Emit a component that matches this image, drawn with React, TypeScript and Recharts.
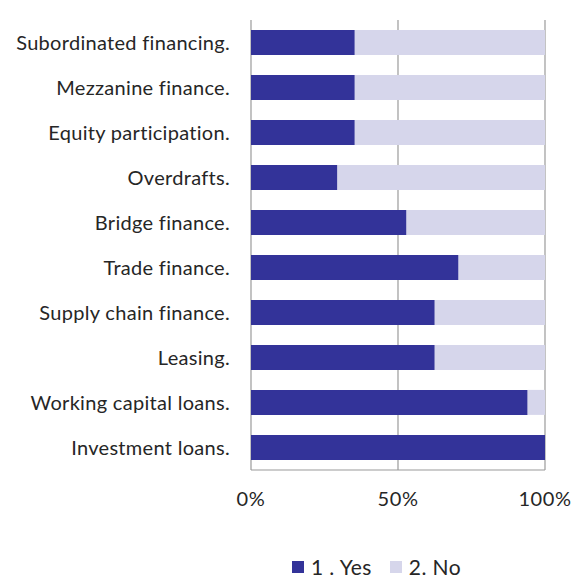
import { BarChart, Bar, XAxis, YAxis, CartesianGrid, Legend } from "recharts"

const categories = [
  "Subordinated financing.",
  "Mezzanine finance.",
  "Equity participation.",
  "Overdrafts.",
  "Bridge finance.",
  "Trade finance.",
  "Supply chain finance.",
  "Leasing.",
  "Working capital loans.",
  "Investment loans.",
]
const yesShares = [35.3, 35.3, 35.3, 29.4, 52.9, 70.6, 62.5, 62.5, 94.1, 100]
const noShares = [64.7, 64.7, 64.7, 70.6, 47.1, 29.4, 37.5, 37.5, 5.9, 0]
const xTicks = [0, 50, 100]

const seriesNames = ["1 . Yes", "2. No"]
const seriesColors = ["#333399", "#d6d6eb"]

const data = categories.map((name, i) => ({ name, yes: yesShares[i], no: noShares[i] }))

const font = "Lato, 'Open Sans', sans-serif"
const textColor = "#262626"

function LegendBox() {
  return (
    <div style={{ display: "flex", alignItems: "center", fontFamily: font, fontSize: 21, color: textColor, whiteSpace: "nowrap", letterSpacing: 0.4 }}>
      {seriesNames.map((n, i) => (
        <span key={n} style={{ display: "flex", alignItems: "center", marginRight: 18 }}>
          <span style={{ display: "inline-block", width: 12, height: 12, background: seriesColors[i], marginRight: 7 }} />
          {n}
        </span>
      ))}
    </div>
  )
}

export default function App() {
  return (
    <div style={{ position: "absolute", left: 0, top: 0, width: 574, height: 578, background: "#fff", overflow: "hidden" }}>
      <BarChart
        width={574}
        height={578}
        data={data}
        layout="vertical"
        margin={{ top: 20, right: 29, left: 0, bottom: 68 }}
        barCategoryGap="22%"
      >
        <CartesianGrid horizontal={false} stroke="#9a9a9a" strokeWidth={1.2} />
        <XAxis
          type="number"
          domain={[0, 100]}
          ticks={xTicks}
          tickFormatter={(v) => `${v}%`}
          axisLine={{ stroke: "#9a9a9a", strokeWidth: 1.2 }}
          tickLine={false}
          tickSize={0}
          tickMargin={22}
          height={40}
          tick={{ fill: textColor, fontSize: 20, fontFamily: font, letterSpacing: 0.6 }}
        />
        <YAxis
          type="category"
          dataKey="name"
          width={251}
          axisLine={false}
          tickLine={false}
          tickSize={0}
          tickMargin={21}
          interval={0}
          tick={{ fill: textColor, fontSize: 20, fontFamily: font, letterSpacing: 0.3 }}
        />
        <Legend
          verticalAlign="middle"
          align="center"
          wrapperStyle={{ top: 554, left: 292, width: "auto" }}
          content={() => <LegendBox />}
        />
        <Bar dataKey="yes" name={seriesNames[0]} stackId="a" fill={seriesColors[0]} isAnimationActive={false} />
        <Bar dataKey="no" name={seriesNames[1]} stackId="a" fill={seriesColors[1]} isAnimationActive={false} />
      </BarChart>
    </div>
  )
}
